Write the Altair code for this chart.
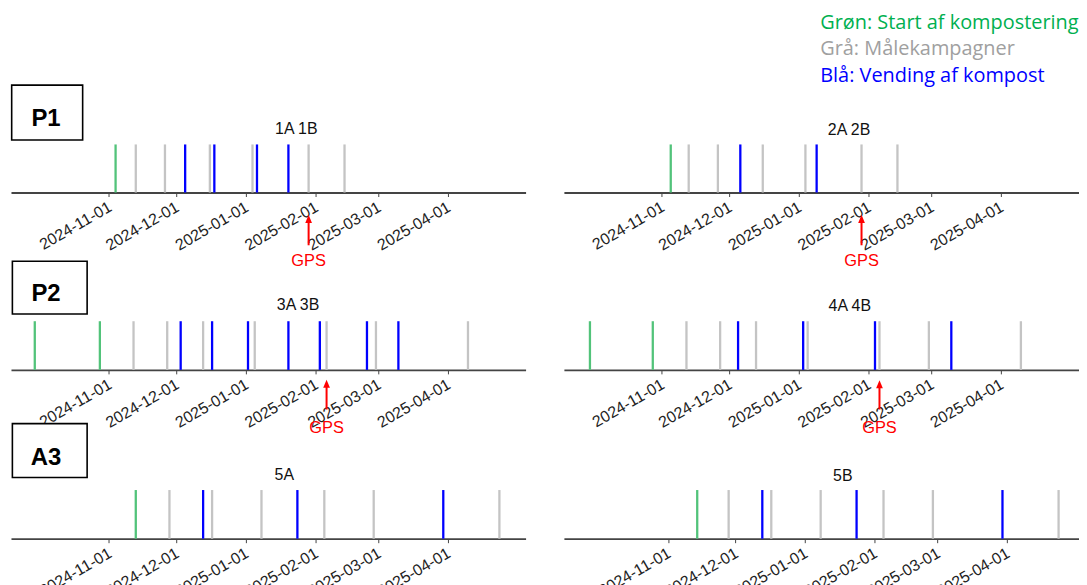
import altair as alt
import pandas as pd

# ---------------- data ----------------
tick_labels = ["2024-11-01", "2024-12-01", "2025-01-01", "2025-02-01", "2025-03-01", "2025-04-01"]

panel_titles = ["1A 1B", "2A 2B", "3A 3B", "4A 4B", "5A", "5B"]
group_labels = ["P1", "P2", "A3"]
legend_labels = ["Grøn: Start af kompostering", "Grå: Målekampagner", "Blå: Vending af kompost"]
gps_label = "GPS"

p1_green = ["2024-11-04"]
p1_gray = ["2024-11-13", "2024-11-26", "2024-12-16", "2025-01-04", "2025-01-29", "2025-02-14"]
p1_blue = ["2024-12-05", "2024-12-18", "2025-01-06", "2025-01-20"]
p1_gps = ["2025-01-29"]

p2_green = ["2024-11-05"]
p2_gray = ["2024-11-13", "2024-11-26", "2024-12-16", "2025-01-04", "2025-01-29", "2025-02-14"]
p2_blue = ["2024-12-06", "2025-01-09"]
p2_gps = ["2025-01-29"]

p3_green = ["2024-09-29", "2024-10-28"]
p3_gray = ["2024-11-12", "2024-11-27", "2024-12-13", "2025-01-05", "2025-02-06", "2025-02-28", "2025-04-10"]
p3_blue = ["2024-12-03", "2024-12-17", "2025-01-02", "2025-01-20", "2025-02-03", "2025-02-24", "2025-03-10"]
p3_gps = ["2025-02-06"]

p4_green = ["2024-09-30", "2024-10-28"]
p4_gray = ["2024-11-12", "2024-11-27", "2024-12-13", "2025-01-05", "2025-02-06", "2025-02-28", "2025-04-10"]
p4_blue = ["2024-12-05", "2025-01-03", "2025-02-04", "2025-03-10"]
p4_gps = ["2025-02-06"]

p5_green = ["2024-11-13"]
p5_gray = ["2024-11-28", "2024-12-17", "2025-01-08", "2025-02-05", "2025-02-27", "2025-04-24"]
p5_blue = ["2024-12-13", "2025-01-24", "2025-03-30"]

p6_green = ["2024-11-14"]
p6_gray = ["2024-11-28", "2024-12-17", "2025-01-08", "2025-02-05", "2025-02-27", "2025-04-24"]
p6_blue = ["2024-12-13", "2025-01-24", "2025-03-30"]

# ---------------- styling / layout ----------------
KINDS = ["gray", "green", "blue"]
LINE_COLORS = ["#c4c4c4", "#52c37a", "#0000ff"]
LINE_WIDTHS = [2.3, 2.3, 2.7]
LEGEND_COLORS = ["#00b050", "#a0a0a0", "#0000ff"]
FONT = "Liberation Sans"

PXD = 2.255  # pixels per day
T0 = pd.Timestamp("2024-11-01") - pd.Timedelta(days=43.6)
W_LEFT, W_RIGHT = 517, 517.5
ROW_H = [70, 78.2, 68.8]
LINE_H = [48.3, 48.9, 48.9]


def dt(ts):
    return alt.DateTime(year=int(ts.year), month=int(ts.month), date=int(ts.day),
                        hours=int(ts.hour), minutes=int(ts.minute))


def panel(green, gray, blue, title, title_xy, width, row, shift_px=0,
          gps=None, gps_y=None, box=None, legend=False):
    height = ROW_H[row]
    start = T0 - pd.Timedelta(days=shift_px / PXD)
    end = start + pd.Timedelta(days=width / PXD)
    rows = ([{"date": d + "T00:00:00", "kind": "gray"} for d in gray]
            + [{"date": d + "T00:00:00", "kind": "green"} for d in green]
            + [{"date": d + "T00:00:00", "kind": "blue"} for d in blue])
    df = pd.DataFrame(rows)
    D = height / LINE_H[row]

    xenc = alt.X(
        "date:T",
        title=None,
        scale=alt.Scale(domain=[dt(start), dt(end)]),
        axis=alt.Axis(
            values=[dt(pd.Timestamp(t)) for t in tick_labels],
            format="%Y-%m-%d",
            labelAngle=-30, labelAlign="right", labelBaseline="top",
            labelFont=FONT, labelFontSize=16, labelColor="#222222",
            labelPadding=2, labelOffset=-3, labelOverlap=False, labelFlush=False,
            tickSize=4, tickColor="#444444", tickWidth=1,
            domainColor="#444444", domainWidth=1.8, grid=False,
        ),
    )

    layers = []
    rules = alt.Chart(df).mark_rule().encode(
        x=xenc,
        y=alt.Y(datum=0, scale=alt.Scale(domain=[0, D]), axis=None),
        y2=alt.Y2(datum=1),
        color=alt.Color("kind:N", scale=alt.Scale(domain=KINDS, range=LINE_COLORS), legend=None),
        strokeWidth=alt.StrokeWidth("kind:N", scale=alt.Scale(domain=KINDS, range=LINE_WIDTHS), legend=None),
    )
    layers.append(rules)

    tdf = pd.DataFrame({"t": [title]})
    layers.append(
        alt.Chart(tdf).mark_text(font=FONT, fontSize=16, color="#111111", baseline="middle", align="center")
        .encode(x=alt.value(title_xy[0]), y=alt.value(title_xy[1]), text="t:N")
    )

    if gps is not None:
        tip, bottom, ty = gps_y
        gdf = pd.DataFrame({"date": [g + "T00:00:00" for g in gps], "label": [gps_label] * len(gps)})
        layers.append(
            alt.Chart(gdf).mark_rule(color="#ff0000", strokeWidth=2)
            .encode(x=xenc, y=alt.value(tip + 6), y2=alt.value(bottom))
        )
        layers.append(
            alt.Chart(gdf).mark_point(shape="M0,-1L0.45,0.1L-0.45,0.1Z", filled=True,
                                      color="#ff0000", opacity=1, size=225)
            .encode(x=xenc, y=alt.value(tip + 7.5))
        )
        layers.append(
            alt.Chart(gdf).mark_text(font=FONT, fontSize=16.5, color="#ff0000", baseline="middle", align="center")
            .encode(x=xenc, y=alt.value(ty), text="label:N")
        )

    if box is not None:
        label, (bx1, by1, bx2, by2), (tx, ty) = box
        bdf = pd.DataFrame({"t": [label]})
        layers.append(
            alt.Chart(bdf).mark_rect(fill="white", stroke="black", strokeWidth=1.6)
            .encode(x=alt.value(bx1), x2=alt.value(bx2), y=alt.value(by1), y2=alt.value(by2))
        )
        layers.append(
            alt.Chart(bdf).mark_text(font=FONT, fontSize=24, fontWeight="bold", color="black",
                                     baseline="middle", align="center")
            .encode(x=alt.value(tx), y=alt.value(ty), text="t:N")
        )

    if legend:
        ys = [-100.5, -74, -47]
        for lab, col, yy in zip(legend_labels, LEGEND_COLORS, ys):
            ldf = pd.DataFrame({"t": [lab]})
            layers.append(
                alt.Chart(ldf).mark_text(font="Open Sans", fontSize=20, color=col,
                                         baseline="middle", align="left")
                .encode(x=alt.value(257.5), y=alt.value(yy), text="t:N")
            )

    return alt.layer(*layers).properties(width=width, height=height)


c1 = panel(p1_green, p1_gray, p1_blue, panel_titles[0], (286.6, 6.2), W_LEFT, 0,
           gps=p1_gps, gps_y=(92.3, 123, 139),
           box=(group_labels[0], (0.7, -37.9, 72, 17.2), (35.2, -4.1)))
c2 = panel(p2_green, p2_gray, p2_blue, panel_titles[1], (286.5, 6.8), W_RIGHT, 0,
           gps=p2_gps, gps_y=(92.3, 123, 139), legend=True)
c3 = panel(p3_green, p3_gray, p3_blue, panel_titles[2], (288.4, 13.5), W_LEFT, 1,
           gps=p3_gps, gps_y=(88, 118, 136.3),
           box=(group_labels[1], (1.4, -31, 76.5, 22.1), (35.2, 2.4)))
c4 = panel(p4_green, p4_gray, p4_blue, panel_titles[3], (287.2, 14), W_RIGHT, 1,
           gps=p4_gps, gps_y=(88.5, 118, 136.3))
c5 = panel(p5_green, p5_gray, p5_blue, panel_titles[4], (274.6, 4.9), W_LEFT, 2,
           box=(group_labels[2], (1.4, -46.8, 76.5, 7.3), (35.2, -12.3)))
c6 = panel(p6_green, p6_gray, p6_blue, panel_titles[5], (280.2, 5.6), W_RIGHT, 2, shift_px=6.3)

chart = alt.concat(
    c1, c2, c3, c4, c5, c6,
    columns=2,
    spacing={"row": 100, "column": 38.5},
    bounds="flush",
    align="each",
).properties(
    padding={"left": 2, "top": 3, "right": 0, "bottom": 0},
    background="white",
).configure_view(stroke=None)

chart.save("out.html", embed_options={"renderer": "svg", "actions": False})
